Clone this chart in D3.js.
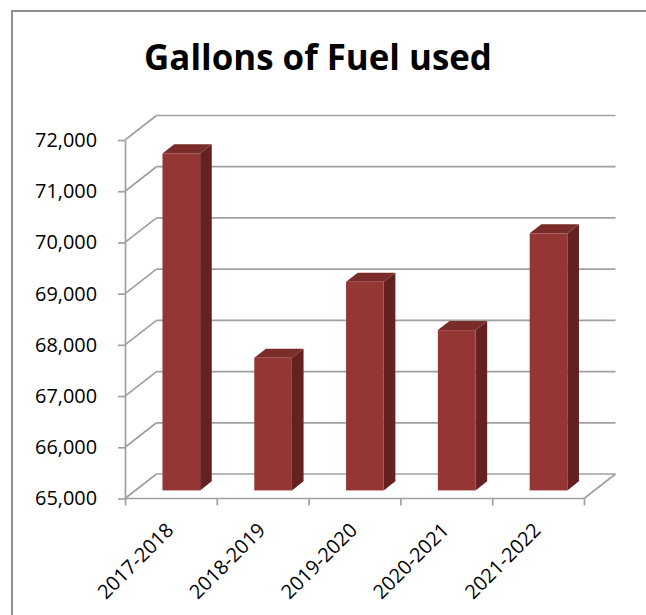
<!DOCTYPE html>
<html>
<head>
<meta charset="utf-8">
<script src="https://cdn.jsdelivr.net/npm/d3@7"></script>
<style>
  html, body { margin: 0; padding: 0; background: #fff; }
  svg { display: block; }
  text { font-family: "Open Sans", "Liberation Sans", sans-serif; fill: #000; }
</style>
</head>
<body>
<svg id="chart" width="646" height="615"></svg>
<script>
// ---- data ----
const title = "Gallons of Fuel used";
const categories = ["2017-2018", "2018-2019", "2019-2020", "2020-2021", "2021-2022"];
const values = [71580, 67590, 69075, 68130, 70020];
const yTicks = [65000, 66000, 67000, 68000, 69000, 70000, 71000, 72000];

// ---- layout ----
const svg = d3.select("#chart");
const plotLeft = 125, plotRight = 584;
const floorY = 498.5, topY = 140;
const depth = { dx: 31.5, dy: -24.5 };       // back wall offset
const barFront = 0.33, barDepth = 0.37;        // fractions of depth

const colFront = "#943634", colSide = "#632221", colTop = "#7a2c2a";
const gridCol = "#a0a0a0";

// helper: fit font size so that a text's width equals target
function fitSize(sel, target) {
  sel.style("font-size", "20px");
  const w = sel.node().getComputedTextLength();
  return 20 * target / w;
}

// chart border
svg.append("rect")
  .attr("x", 12).attr("y", 11).attr("width", 700).attr("height", 700)
  .attr("fill", "none").attr("stroke", "#8f8f8f").attr("stroke-width", 2);

// title
const t = svg.append("text")
  .attr("x", 318).attr("y", 70)
  .attr("text-anchor", "middle")
  .style("font-weight", "bold")
  .text(title);
t.style("font-size", fitSize(t, 348) + "px");

const y = d3.scaleLinear().domain([65000, 72000]).range([floorY, topY]);
const x = d3.scaleBand().domain(categories).range([plotLeft, plotRight])
  .paddingInner(0.59).paddingOuter(0.295);
const xEdge = d3.scaleLinear().domain([0, categories.length]).range([plotLeft, plotRight]);

const grid = svg.append("g").attr("stroke", gridCol).attr("stroke-width", 1.7).attr("fill", "none");

// side wall diagonals + back wall gridlines
yTicks.forEach(v => {
  const yy = y(v);
  grid.append("line")
    .attr("x1", plotLeft).attr("y1", yy)
    .attr("x2", plotLeft + depth.dx).attr("y2", yy + depth.dy);
  grid.append("line")
    .attr("x1", plotLeft + depth.dx).attr("y1", yy + depth.dy)
    .attr("x2", plotRight + depth.dx).attr("y2", yy + depth.dy);
});
// floor front edge and right diagonal
grid.append("line")
  .attr("x1", plotLeft).attr("y1", floorY).attr("x2", plotRight).attr("y2", floorY);
grid.append("line")
  .attr("x1", plotRight).attr("y1", floorY)
  .attr("x2", plotRight + depth.dx).attr("y2", floorY + depth.dy);

// y axis
const yAxis = svg.append("g")
  .attr("transform", `translate(${plotLeft},0)`)
  .call(d3.axisLeft(y).tickValues(yTicks).tickFormat(d3.format(",")).tickSize(7).tickSizeOuter(0).tickPadding(21));
yAxis.selectAll("path, line").attr("stroke", gridCol).attr("stroke-width", 1.7);
const yLabels = yAxis.selectAll("text").style("font-family", "'Open Sans'");
const ySize = fitSize(yLabels.filter((d, i) => i === yTicks.length - 1), 62);
yLabels.style("font-size", ySize + "px");

// x axis ticks at category boundaries
const xAxis = svg.append("g")
  .attr("transform", `translate(0,${floorY})`)
  .call(d3.axisBottom(xEdge).tickValues(d3.range(categories.length + 1)).tickFormat("").tickSize(7).tickSizeOuter(0));
xAxis.select("path").remove();
xAxis.selectAll("line").attr("stroke", gridCol).attr("stroke-width", 1.7);

// x labels
const xLabels = svg.append("g").selectAll("text").data(categories).join("text")
  .attr("transform", d => `translate(${x(d) + x.bandwidth() / 2 - 1},${floorY + 28}) rotate(-45)`)
  .attr("text-anchor", "end")
  .attr("dy", "0.35em")
  .text(d => d);
xLabels.style("font-size", ySize + "px");

// bars (3D)
const bars = svg.append("g");
categories.forEach((c, i) => {
  const v = values[i];
  const fx = depth.dx * barFront, fy = depth.dy * barFront;
  const bx = depth.dx * barDepth, by = depth.dy * barDepth;
  const x0 = x(c) + fx, x1 = x(c) + x.bandwidth() + fx;
  const yTop = y(v) + fy, yBot = y(65000) + fy;
  const g = bars.append("g");
  // side face
  g.append("path")
    .attr("d", `M${x1},${yTop} L${x1 + bx},${yTop + by} L${x1 + bx},${yBot + by} L${x1},${yBot} Z`)
    .attr("fill", colSide);
  // top face
  g.append("path")
    .attr("d", `M${x0},${yTop} L${x0 + bx},${yTop + by} L${x1 + bx},${yTop + by} L${x1},${yTop} Z`)
    .attr("fill", colTop);
  // front face
  g.append("rect")
    .attr("x", x0).attr("y", yTop)
    .attr("width", x1 - x0).attr("height", yBot - yTop)
    .attr("fill", colFront);
});
</script>
</body>
</html>
